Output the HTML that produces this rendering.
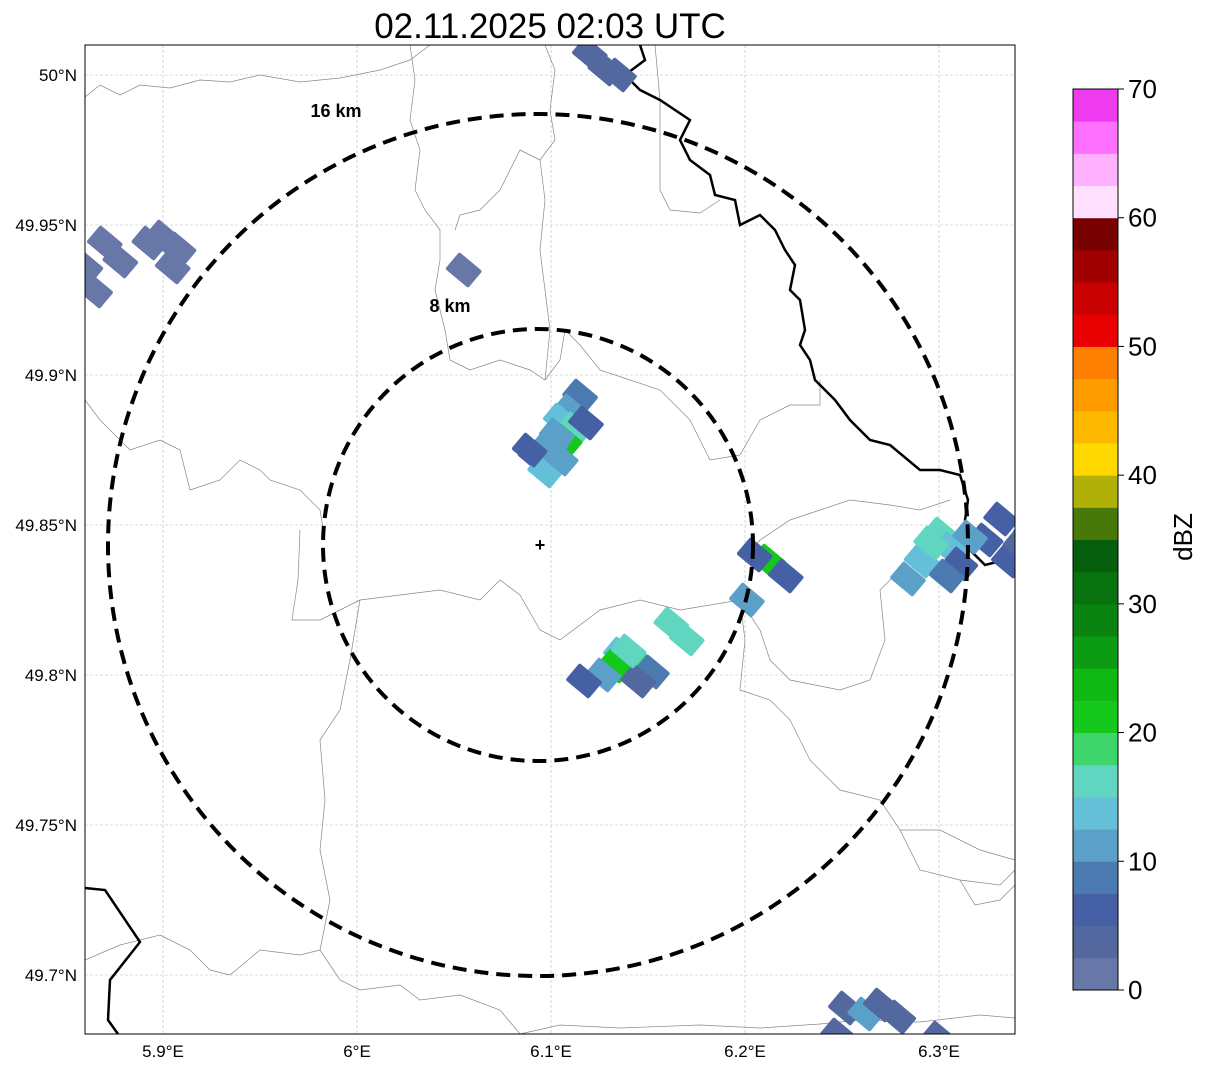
<!DOCTYPE html>
<html><head><meta charset="utf-8"><style>
body{margin:0;background:#fff;font-family:"Liberation Sans",sans-serif}
svg{display:block}
</style></head><body>
<svg id="chart" width="1207" height="1069" xmlns="http://www.w3.org/2000/svg">
<text x="550" y="38" font-size="35" text-anchor="middle">02.11.2025 02:03 UTC</text>
<defs><clipPath id="mapclip"><rect x="85" y="45" width="930" height="989"/></clipPath></defs>
<g id="grid"></g>
<g clip-path="url(#mapclip)">
<g fill="none" stroke="#888" stroke-width="0.7">
<polyline points="85,97 100,85 120,95 140,85 170,88 200,80 230,82 260,75 300,82 340,78 380,70 410,60 430,45"/>
<polyline points="410,45 415,80 410,120 420,150 415,190 425,210 440,230 440,260 435,290 445,330 450,360 470,370 500,360 530,370 545,380 560,360 565,330 580,345 600,370 630,380 660,390 690,420 710,460 740,455 760,420 790,405 820,405 820,380"/>
<polyline points="545,380 550,330 545,290 540,250 545,200 540,160 555,140 550,110 555,70 545,45"/>
<polyline points="540,160 520,150 500,190 480,210 460,215 455,230"/>
<polyline points="85,400 100,420 130,450 160,440 180,450 190,490 220,480 240,460 260,470 270,480 300,490 320,510 325,540"/>
<polyline points="300,530 298,580 292,620 320,620 360,600 400,595 440,590 480,600 500,580 520,595 540,630 560,640 600,610 640,600 680,610 740,600 760,630 770,660 790,680 840,690 870,680 885,640 880,590 900,570"/>
<polyline points="740,600 745,640 740,690 770,700 790,720 810,760 840,790 880,800 900,830 940,830 980,850 1015,860"/>
<polyline points="360,600 350,660 340,710 320,740 325,800 320,850 330,900 320,950 340,980 360,990 400,985 420,1000 460,995 500,1010 520,1034"/>
<polyline points="85,960 120,945 160,935 190,950 210,970 230,975 260,950 300,955 320,950"/>
<polyline points="520,1034 560,1025 620,1028 700,1025 760,1028 820,1024 860,1020 920,1022 980,1015 1015,1018"/>
<polyline points="900,830 920,870 960,880 1000,885 1015,870"/>
<polyline points="960,880 975,905 1000,900 1015,885"/>
<polyline points="745,560 760,540 790,520 820,510 850,500 890,505 920,510 950,500"/>
<polyline points="655,45 660,100 660,190 670,210 700,213 720,200"/>
</g>
<g fill="none" stroke="#000" stroke-width="2.5">
<polyline points="640,45 645,60 625,75 640,90 660,100 690,120 680,140 690,160 710,175 715,195 735,200 740,225 760,215 775,230 785,250 795,265 790,290 800,300 805,330 800,345 810,360 815,380 835,400 850,420 870,440 890,445 920,470 940,470 960,475 968,500 965,520 970,550 985,565 1005,560 1015,530"/>
<polyline points="85,888 105,890 140,942 110,980 108,1020 118,1034"/>
</g>
<g id="echoes"></g>
<g fill="none" stroke="#000" stroke-width="4" stroke-dasharray="14,8">
<ellipse cx="538" cy="545" rx="215" ry="216"/>
<ellipse cx="538" cy="545" rx="430" ry="431"/>
</g>
<text x="540" y="551" font-size="18" font-weight="bold" text-anchor="middle">+</text>
<text x="336" y="117" font-size="18" font-weight="bold" text-anchor="middle">16 km</text>
<text x="450" y="312" font-size="18" font-weight="bold" text-anchor="middle">8 km</text>
</g>
<rect x="85" y="45" width="930" height="989" fill="none" stroke="#000" stroke-width="1"/>
<g id="axes" font-size="17"></g>
<g id="cbar"></g>
<text x="1195" y="540" font-size="26" text-anchor="middle" transform="rotate(-90 1192 540)">dBZ</text>
</svg>
<script>
const lonTicks=[5.9,6.0,6.1,6.2,6.3];
const lonLabels=["5.9°E","6°E","6.1°E","6.2°E","6.3°E"];
const latTicks=[50.0,49.95,49.9,49.85,49.8,49.75,49.7];
const latLabels=["50°N","49.95°N","49.9°N","49.85°N","49.8°N","49.75°N","49.7°N"];
const cbColors=["#6677a8","#5468a0","#4560a4","#4a7ab0","#5aa0c8","#63c0d8","#60d6c0","#3ed66c","#14c81c","#10b814","#0c9c14","#0a8410","#08720e","#045e0c","#487808","#b0b008","#ffd800","#ffb800","#ff9c00","#ff8000","#e80000","#c80000","#a00000","#780000","#ffe0ff","#ffb0ff","#ff70ff","#f03cf0"];
const cbTicks=[0,10,20,30,40,50,60,70];
const echoLon=[6.115,6.110,6.105,6.112,6.107,6.100,6.092,6.097,6.105,6.089,6.118,6.103,
5.870,5.878,5.900,5.908,5.865,5.893,5.860,5.905,6.055,
6.136,6.144,6.133,6.152,6.127,6.117,6.162,6.170,6.212,6.205,6.221,6.201,6.145,6.140,
6.301,6.306,6.291,6.311,6.332,6.324,6.284,6.304,6.336,6.296,6.342,6.316,
6.120,6.128,6.135,6.252,6.262,6.270,6.279,6.248,6.300];
const echoLat=[49.893,49.888,49.885,49.882,49.878,49.877,49.873,49.868,49.872,49.875,49.884,49.880,
49.944,49.938,49.946,49.942,49.928,49.944,49.936,49.936,49.935,
49.807,49.805,49.803,49.801,49.800,49.798,49.817,49.812,49.838,49.840,49.833,49.825,49.798,49.808,
49.847,49.842,49.838,49.837,49.852,49.845,49.832,49.833,49.838,49.844,49.843,49.846,
50.007,50.002,50.000,49.689,49.687,49.690,49.686,49.680,49.679];
const echoDbz=[8,12,14,16,20,12,6,13,10,6,7,11,
1,1,1,1,1,1,1,1,1,
14,18,21,8,12,6,16,15,22,5,5,10,4,17,
16,14,13,6,5,6,12,8,5,17,4,12,
3,4,3,4,12,4,4,3,3];
const NS="http://www.w3.org/2000/svg";
const X=lon=>163+(lon-5.9)*1940;
const Y=lat=>75+(50-lat)*3000;
const CB0=990,CB1=89,CBX=1073,CBW=45;
const cbY=v=>CB0-(v/70)*(CB0-CB1);
function mk(tag,parent,attrs){const e=document.createElementNS(NS,tag);for(const k in attrs)e.setAttribute(k,attrs[k]);parent.appendChild(e);return e;}
const grid=document.getElementById('grid'),axes=document.getElementById('axes');
lonTicks.forEach((t,i)=>{
  const l=mk('line',grid,{x1:X(t),x2:X(t),y1:45,y2:1034,stroke:'#bbb','stroke-width':0.6,'stroke-dasharray':'3,2'});
  
  
  const tx=mk('text',axes,{x:X(t),y:1057,'text-anchor':'middle'});tx.textContent=lonLabels[i];
  
  
});
latTicks.forEach((t,i)=>{
  const l=mk('line',grid,{x1:85,x2:1015,y1:Y(t),y2:Y(t),stroke:'#bbb','stroke-width':0.6,'stroke-dasharray':'3,2'});
  
  
  const tx=mk('text',axes,{x:77,y:Y(t)+6,'text-anchor':'end'});tx.textContent=latLabels[i];
  
  
});
const cb=document.getElementById('cbar');
cbColors.forEach((c,i)=>{
  const v0=i*2.5,v1=(i+1)*2.5;
  const r=mk('rect',cb,{x:CBX,y:cbY(v1),width:CBW,height:cbY(v0)-cbY(v1)+0.5,fill:c});
  
  
});
mk('rect',cb,{x:CBX,y:CB1,width:CBW,height:CB0-CB1,fill:'none',stroke:'#000','stroke-width':1});
cbTicks.forEach(t=>{
  mk('line',cb,{x1:CBX+CBW,x2:CBX+CBW+6,y1:cbY(t),y2:cbY(t),stroke:'#000'});
  const tx=mk('text',cb,{x:CBX+CBW+10,y:cbY(t)+9,'font-size':26});tx.textContent=t;
  
  
});
const eg=document.getElementById('echoes');
echoLon.forEach((lon,i)=>{
  const x=X(lon),y=Y(echoLat[i]);
  const idx=Math.min(cbColors.length-1,Math.floor(echoDbz[i]/2.5));
  const r=mk('rect',eg,{x:x-15,y:y-11,width:30,height:22,rx:2,fill:cbColors[idx],transform:`rotate(40 ${x} ${y})`});
  
  
});
</script>
</body></html>
